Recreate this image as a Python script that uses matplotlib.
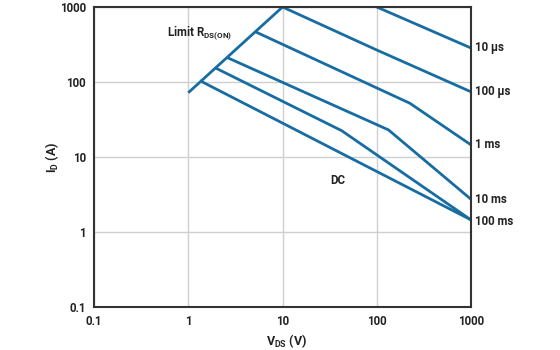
import matplotlib
matplotlib.use("Agg")
import matplotlib.pyplot as plt
import matplotlib.transforms as mtransforms

plt.rcParams['font.family'] = ['Roboto', 'DejaVu Sans']
plt.rcParams['font.weight'] = 'bold'
plt.rcParams['axes.labelweight'] = 'bold'
plt.rcParams['mathtext.fontset'] = 'custom'
plt.rcParams['mathtext.rm'] = 'Roboto:bold'
plt.rcParams['mathtext.it'] = 'Roboto:bold'
plt.rcParams['mathtext.bf'] = 'Roboto:bold'
plt.rcParams['mathtext.default'] = 'rm'

# Data (V_DS in volts, I_D in amperes)
limit_v = [1.0, 10.0]
limit_i = [72.0, 1000.0]

us10_v = [80.0, 1000.0]
us10_i = [1130.0, 284.0]

us100_v = [10.0, 100.0, 1000.0]
us100_i = [1000.0, 267.0, 74.0]

ms1_v = [5.1, 225.0, 1000.0]
ms1_i = [470.0, 52.0, 14.5]

ms10_v = [2.56, 133.0, 1000.0]
ms10_i = [213.0, 23.0, 2.73]

ms100_v = [1.92, 42.5, 1000.0]
ms100_i = [155.0, 22.4, 1.45]

dc_v = [1.33, 1000.0]
dc_i = [104.0, 1.45]

end_labels = ["10 µs", "100 µs", "1 ms", "10 ms", "100 ms"]
end_label_y = [284.0, 74.0, 14.5, 2.75, 1.36]

ticks = [0.1, 1, 10, 100, 1000]
tick_labels = ["0.1", "1", "10", "100", "1000"]

blue = '#176da2'
ink = '#222222'

fig = plt.figure(figsize=(5.6, 3.5), dpi=100)
ax = fig.add_axes([0.168, 0.123, 0.673, 0.857])
ax.set_xscale('log')
ax.set_yscale('log')
ax.set_xlim(0.1, 1000)
ax.set_ylim(0.1, 1000)

for v, i in [(limit_v, limit_i), (us10_v, us10_i), (us100_v, us100_i),
             (ms1_v, ms1_i), (ms10_v, ms10_i), (ms100_v, ms100_i), (dc_v, dc_i)]:
    ax.plot(v, i, color=blue, lw=2.0, solid_capstyle='butt', clip_on=True)

ax.set_xticks(ticks)
ax.set_xticklabels(tick_labels)
ax.set_yticks(ticks)
ax.set_yticklabels(tick_labels)
ax.minorticks_off()
ax.tick_params(length=0, labelsize=8.3, pad=6, colors=ink)
ax.grid(True, color='#d0d0d0', lw=1.0)
ax.set_axisbelow(True)
for s in ax.spines.values():
    s.set_color('#333333')
    s.set_linewidth(1.5)

ax.set_xlabel(r'V$_{DS}$ (V)', fontsize=9, color=ink, fontweight='bold', va='center')
ax.set_ylabel(r'I$_{D}$ (A)', fontsize=9, color=ink, fontweight='bold', va='center')
ax.xaxis.set_label_coords(0.51, -0.113)
ax.yaxis.set_label_coords(-0.112, 0.5)

trans = mtransforms.blended_transform_factory(ax.transAxes, ax.transData)
for lab, y in zip(end_labels, end_label_y):
    ax.text(1.012, y, lab, transform=trans, ha='left', va='center',
            fontsize=8.3, color=ink)

ax.text(38.8, 4.93, 'DC', ha='center', va='center', fontsize=8.3, color=ink)
ax.text(0.6, 450, r'Limit R$_{DS(ON)}$', ha='left', va='center', fontsize=8.3,
        color=ink)

fig.savefig('out.png', dpi=100)
